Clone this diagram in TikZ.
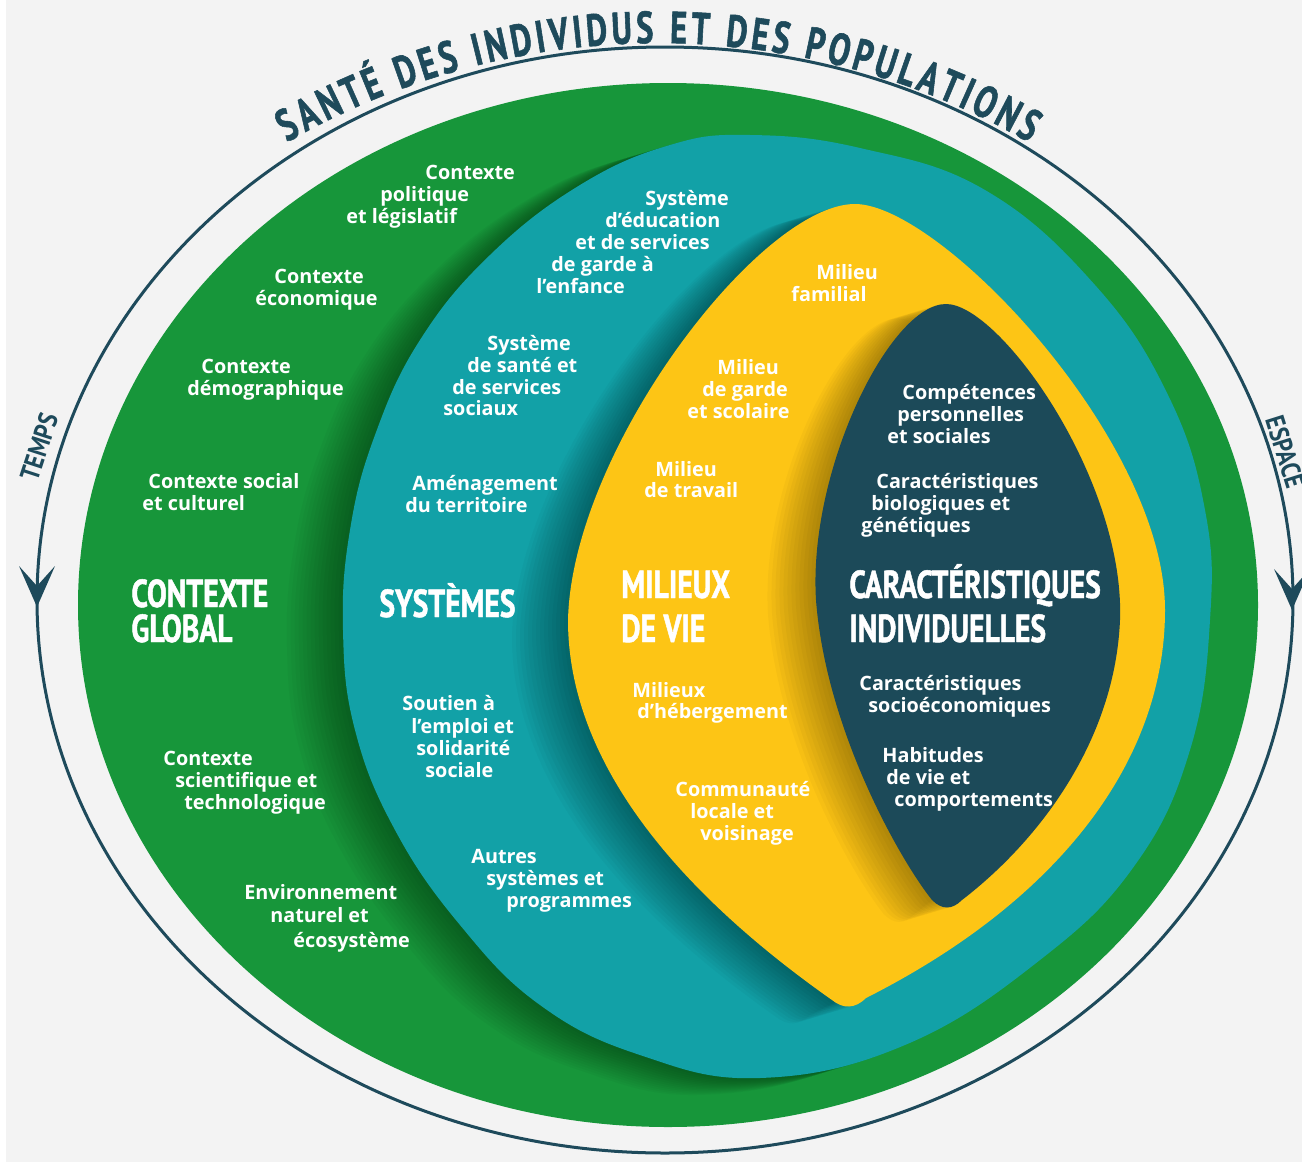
\documentclass[tikz,border=0pt]{standalone}
\usepackage{fontspec}
\setmainfont{Open Sans}
\newfontfamily\condfont[FakeStretch=0.76,FakeBold=1.2]{PT Sans}
\newfontfamily\titfont[FakeStretch=0.72,FakeBold=1.2]{PT Sans}
\newfontfamily\sidefont[FakeStretch=0.85]{PT Sans}
\usetikzlibrary{decorations.text}
\definecolor{bgc}{HTML}{F3F3F3}
\definecolor{gr}{HTML}{17963A}
\definecolor{te}{HTML}{12A1A7}
\definecolor{ye}{HTML}{FDC515}
\definecolor{nv}{HTML}{1C4A59}
\definecolor{ln}{HTML}{1E4A5B}
\def\tealP{plot[smooth cycle, tension=0.7] coordinates {(750,135) (860,148) (985,190) (1095,285) (1168,395) (1205,510) (1210,620) (1190,750) (1135,865) (1040,960) (905,1045) (760,1078) (640,1055) (540,1005) (460,925) (395,830) (355,730) (343,630) (350,530) (375,435) (420,340) (490,255) (580,185) (670,145)}}
\def\yelP{(855,204) .. controls (940,204) and (1165,440) .. (1165,610) .. controls (1165,760) and (1060,900) .. (866,998) .. controls (855,1009) and (843,1009) .. (832,1000) .. controls (690,900) and (568,770) .. (568,620) .. controls (572,450) and (760,204) .. (855,204) -- cycle}
\def\navP{(946,304) .. controls (1000,304) and (1125,480) .. (1120,620) .. controls (1115,740) and (1040,840) .. (962,900) .. controls (952,910) and (942,910) .. (932,900) .. controls (900,860) and (826,730) .. (816,600) .. controls (808,470) and (890,304) .. (946,304) -- cycle}
\begin{document}
\begin{tikzpicture}[x=0.5pt,y=-0.5pt,
  lab/.style={anchor=base west,inner sep=0pt,text=white,font=\bfseries\fontsize{9.9}{12}\selectfont},
  head/.style={anchor=base west,inner sep=0pt,text=white,font=\condfont\bfseries\fontsize{19.5}{22}\selectfont},
  side/.style={inner sep=0pt,text=ln,font=\sidefont\bfseries\fontsize{13.5}{16}\selectfont},
  shad/.style={black,opacity=0.028}]
\useasboundingbox (0,0) rectangle (1302,1162);
\fill[white] (0,0) rectangle (1302,1162);
\fill[bgc] (6,0) rectangle (1302,1162);
% outer line
\draw[ln,line width=1.5pt] (665,600) ellipse [x radius=628, y radius=553];
\fill[ln] (37,607) -- (19,566) -- (37,586) -- (55,566) -- cycle;
\fill[ln] (1292,610) -- (1274,569) -- (1292,589) -- (1310,569) -- cycle;
\node[side,rotate=72] (temps) at (39,447) {TEMPS};
\node[side,rotate=-72.5] (espace) at (1285,452) {ESPACE};
% title
\coordinate (tc) at (658,785);
\path[decorate,decoration={text along path,text color=ln,text align=fit to path,
  text={|\titfont\bfseries\fontsize{22.5}{24}\selectfont|SANTÉ DES INDIVIDUS ET DES POPULATIONS}}]
  (tc) ++(-120:742) arc[start angle=-120,end angle=-60,radius=742];
% shapes
\fill[gr] (668,605) ellipse [x radius=590, y radius=522];
\foreach \i in {1,...,14} {\fill[shad,shift={(-\i*4,\i*1.2)}] \tealP;}
\fill[te] \tealP;
\foreach \i in {1,...,14} {\fill[shad,shift={(-\i*4,\i*1.2)}] \yelP;}
\fill[ye] \yelP;
\foreach \i in {1,...,12} {\fill[shad,shift={(-\i*4,\i*1.2)}] \navP;}
\fill[nv] \navP;
% green labels
\node[lab] (cpol1) at (425,179) {Contexte};
\node[lab] (cpol2) at (380,201) {politique};
\node[lab] (cpol3) at (346,223) {et législatif};
\node[lab] (ceco1) at (274,283) {Contexte};
\node[lab] (ceco2) at (255,305) {économique};
\node[lab] (cdem1) at (201,373) {Contexte};
\node[lab] (cdem2) at (187,395) {démographique};
\node[lab] (csoc1) at (148,488) {Contexte social};
\node[lab] (csoc2) at (142,510) {et culturel};
\node[head] (hcg1) at (131,607) {CONTEXTE};
\node[head] (hcg2) at (131,642) {GLOBAL};
\node[lab] (csci1) at (163,765) {Contexte};
\node[lab] (csci2) at (175,787) {scientifique et};
\node[lab] (csci3) at (184,809) {technologique};
\node[lab] (cenv1) at (244,899) {Environnement};
\node[lab] (cenv2) at (270,922) {naturel et};
\node[lab] (cenv3) at (293,947) {écosystème};
% teal labels
\node[lab] (sedu1) at (645,205) {Système};
\node[lab] (sedu2) at (605,227) {d’éducation};
\node[lab] (sedu3) at (575,249) {et de services};
\node[lab] (sedu4) at (551,271) {de garde à};
\node[lab] (sedu5) at (536,293) {l’enfance};
\node[lab] (ssan1) at (487,350) {Système};
\node[lab] (ssan2) at (467,372) {de santé et};
\node[lab] (ssan3) at (452,394) {de services};
\node[lab] (ssan4) at (443,415) {sociaux};
\node[lab] (samt1) at (412,490) {Aménagement};
\node[lab] (samt2) at (405,512) {du territoire};
\node[head] (hsys) at (379,617) {SYSTÈMES};
\node[lab] (ssou1) at (402,710) {Soutien à};
\node[lab] (ssou2) at (411,733) {l’emploi et};
\node[lab] (ssou3) at (416,755) {solidarité};
\node[lab] (ssou4) at (425,777) {sociale};
\node[lab] (saut1) at (471,863) {Autres};
\node[lab] (saut2) at (486,885) {systèmes et};
\node[lab] (saut3) at (506,907) {programmes};
% yellow labels
\node[lab] (mfam1) at (816,279) {Milieu};
\node[lab] (mfam2) at (791,301) {familial};
\node[lab] (mgar1) at (717,374) {Milieu};
\node[lab] (mgar2) at (702,396) {de garde};
\node[lab] (mgar3) at (687,418) {et scolaire};
\node[lab] (mtra1) at (655,476) {Milieu};
\node[lab] (mtra2) at (644,497) {de travail};
\node[head] (hmv1) at (621,598) {MILIEUX};
\node[head] (hmv2) at (621,642) {DE VIE};
\node[lab] (mheb1) at (632,697) {Milieux};
\node[lab] (mheb2) at (637,718) {d’hébergement};
\node[lab] (mcom1) at (675,796) {Communauté};
\node[lab] (mcom2) at (690,818) {locale et};
\node[lab] (mcom3) at (700,840) {voisinage};
% navy labels
\node[lab] (icom1) at (902,399) {Compétences};
\node[lab] (icom2) at (897,421) {personnelles};
\node[lab] (icom3) at (887,443) {et sociales};
\node[lab] (ibio1) at (876,488) {Caractéristiques};
\node[lab] (ibio2) at (871,510) {biologiques et};
\node[lab] (ibio3) at (861,532) {génétiques};
\node[head] (hci1) at (849,598) {CARACTÉRISTIQUES};
\node[head] (hci2) at (849,642) {INDIVIDUELLES};
\node[lab] (isoc1) at (859,690) {Caractéristiques};
\node[lab] (isoc2) at (868,712) {socioéconomiques};
\node[lab] (ihab1) at (882,762) {Habitudes};
\node[lab] (ihab2) at (886,784) {de vie et};
\node[lab] (ihab3) at (894,806) {comportements};
\end{tikzpicture}
\end{document}
